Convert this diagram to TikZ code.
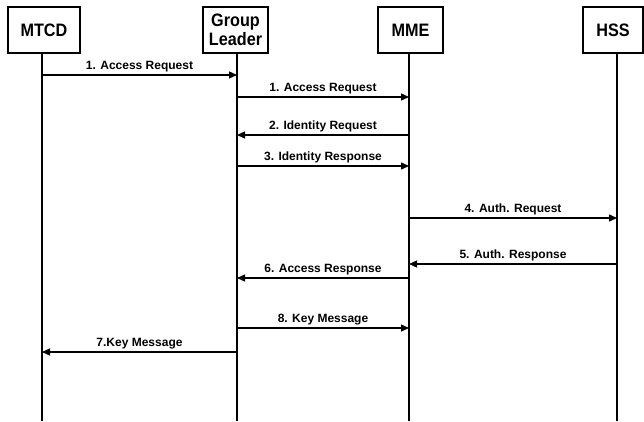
\documentclass[tikz,border=0pt]{standalone}
\usepackage{fontspec}
\setmainfont{Liberation Sans}
\newfontfamily\boxfont[FakeStretch=0.9]{Liberation Sans}
\usetikzlibrary{arrows.meta}

\tikzset{
    entity/.style={draw, line width=1.3pt, minimum height=46pt, inner sep=2pt,
        align=center, font=\boxfont\fontsize{18}{19}\selectfont\bfseries},
    lifeline/.style={line width=1.4pt},
    msg/.style={line width=1.3pt, -{Triangle[length=8pt, width=7pt]}},
    lbl/.style={above=1pt, inner sep=1pt, font=\fontsize{12}{14}\selectfont\bfseries},
}

\begin{document}
\begin{tikzpicture}[x=1pt, y=-1pt]
    \useasboundingbox (0,0) rectangle (644,421);

    \node[entity, minimum width=72pt] (mtcd) at (44,30) {MTCD};
    \node[entity, minimum width=65pt] (gl) at (235.5,30) {Group\\Leader};
    \node[entity, minimum width=65pt] (mme) at (410.5,30) {MME};
    \node[entity, minimum width=60pt] (hss) at (613,30) {HSS};

    % lifelines
    \coordinate (mtcdL) at (mtcd.south -| 42,0);
    \coordinate (glL) at (gl.south -| 237,0);
    \coordinate (mmeL) at (mme.south -| 409,0);
    \coordinate (hssL) at (hss.south -| 617,0);
    \foreach \e in {mtcdL, glL, mmeL, hssL}
        \draw[lifeline] (\e) -- (\e |- 0,421);

    \draw[msg] (mtcdL |- 0,75) -- node[lbl] {1. Access Request} (glL |- 0,75);
    \draw[msg] (glL |- 0,97) -- node[lbl] {1. Access Request} (mmeL |- 0,97);
    \draw[msg] (mmeL |- 0,135) -- node[lbl] {2. Identity Request} (glL |- 0,135);
    \draw[msg] (glL |- 0,166) -- node[lbl] {3. Identity Response} (mmeL |- 0,166);
    \draw[msg] (mmeL |- 0,218) -- node[lbl] {4. Auth. Request} (hssL |- 0,218);
    \draw[msg] (hssL |- 0,264) -- node[lbl] {5. Auth. Response} (mmeL |- 0,264);
    \draw[msg] (mmeL |- 0,278) -- node[lbl] {6. Access Response} (glL |- 0,278);
    \draw[msg] (glL |- 0,328) -- node[lbl] {8. Key Message} (mmeL |- 0,328);
    \draw[msg] (glL |- 0,352) -- node[lbl] {7.Key Message} (mtcdL |- 0,352);
\end{tikzpicture}
\end{document}
